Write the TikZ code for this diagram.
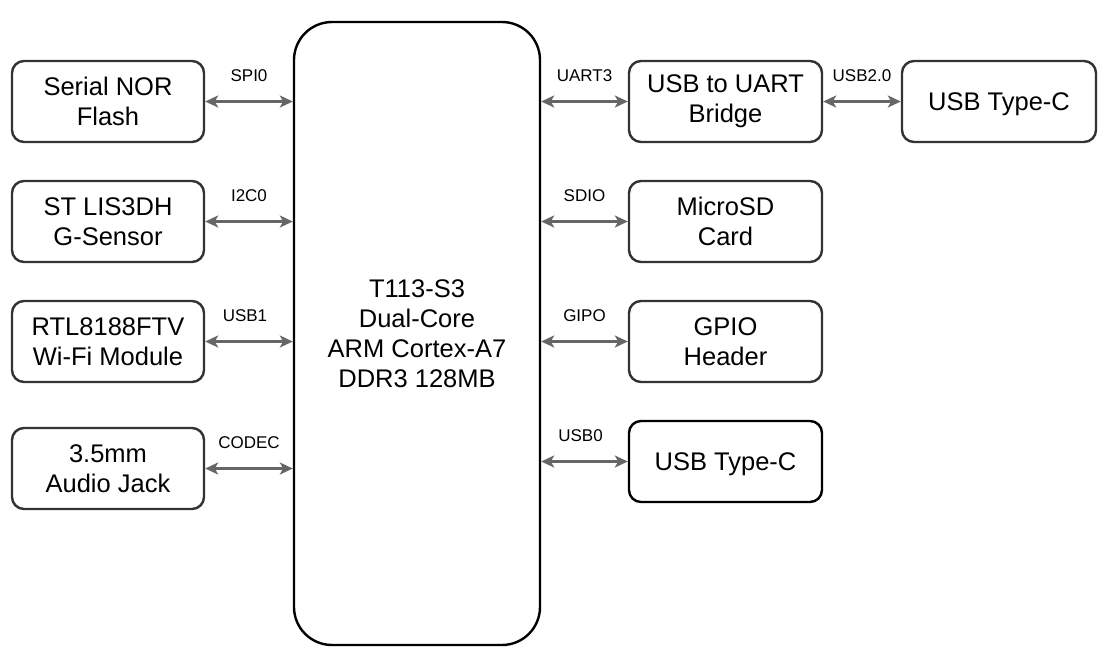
\documentclass[tikz,border=0pt]{standalone}
\usepackage{fontspec}
\setmainfont{Liberation Sans}
\usetikzlibrary{arrows.meta}
\definecolor{boxline}{HTML}{333333}
\definecolor{arrline}{HTML}{666666}
\begin{document}
\begin{tikzpicture}[x=1pt,y=-1pt,
  box/.style={draw=boxline,line width=2.4pt,rounded corners=12pt,align=center,
    font=\fontsize{25.5}{30}\selectfont,inner sep=0pt,minimum height=81pt,minimum width=192pt},
  oneline/.style={text depth=0pt},
  lnk/.style={draw=arrline,line width=2.4pt,
    {Stealth[length=13pt,width=12pt,inset=3.5pt]}-{Stealth[length=13pt,width=12pt,inset=3.5pt]}},
  lbl/.style={font=\fontsize{17}{20}\selectfont,yshift=26pt,inner sep=0pt}]
\useasboundingbox (0,0) rectangle (1109,664);
\node[box,draw=black,minimum width=246pt,minimum height=623pt,rounded corners=38pt] (main) at (417,333.5)
  {T113-S3\\Dual-Core\\ARM Cortex-A7\\DDR3 128MB};
% left
\node[box] (nor) at (108,101.5) {Serial NOR\\Flash};
\node[box] (gs) at (108,221.5) {ST LIS3DH\\G-Sensor};
\node[box] (wifi) at (108,341.5) {RTL8188FTV\\Wi-Fi Module};
\node[box] (jack) at (108,468.5) {3.5mm\\Audio Jack};
% right
\node[box,minimum width=193pt] (bridge) at (725.5,101.5) {USB to UART\\Bridge};
\node[box,minimum width=193pt] (sd) at (725.5,221.5) {MicroSD\\Card};
\node[box,minimum width=193pt] (gpio) at (725.5,341.5) {GPIO\\Header};
\node[box,oneline,draw=black,minimum width=193pt] (usb0) at (725.5,461.5) {USB Type-C};
\node[box,oneline,minimum width=194pt] (usbc) at (999,101.5) {USB Type-C};
% links
\draw[lnk] (nor.east) -- (nor.east -| main.west) node[midway,lbl] {SPI0};
\draw[lnk] (gs.east) -- (gs.east -| main.west) node[midway,lbl] {I2C0};
\draw[lnk] (wifi.east) -- (wifi.east -| main.west) node[midway,lbl,xshift=-4pt] {USB1};
\draw[lnk] (jack.east) -- (jack.east -| main.west) node[midway,lbl] {CODEC};
\draw[lnk] (bridge.west -| main.east) -- (bridge.west) node[midway,lbl] {UART3};
\draw[lnk] (sd.west -| main.east) -- (sd.west) node[midway,lbl] {SDIO};
\draw[lnk] (gpio.west -| main.east) -- (gpio.west) node[midway,lbl] {GIPO};
\draw[lnk] (usb0.west -| main.east) -- (usb0.west) node[midway,lbl,xshift=-4pt] {USB0};
\draw[lnk] (bridge.east) -- (usbc.west) node[midway,lbl] {USB2.0};
\end{tikzpicture}
\end{document}
